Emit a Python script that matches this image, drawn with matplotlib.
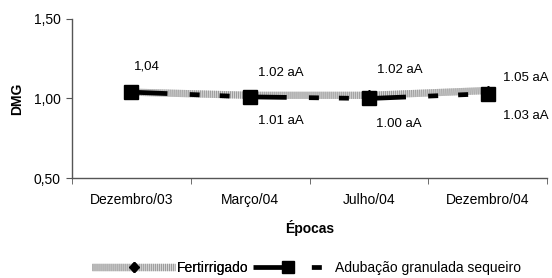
import numpy as np
import matplotlib
matplotlib.use("Agg")
import matplotlib.pyplot as plt
from matplotlib.lines import Line2D

plt.rcParams.update({
    "font.family": ["Liberation Sans", "DejaVu Sans"],
    "font.size": 10,
    "lines.scale_dashes": False,
})

# Data
epocas = ["Dezembro/03", "Março/04", "Julho/04", "Dezembro/04"]
fertirrigado = [1.04, 1.02, 1.02, 1.05]
sequeiro = [1.04, 1.01, 1.00, 1.03]
labels_fert = ["1,04", "1.02 aA", "1.02 aA", "1.05 aA"]
labels_seq = ["", "1.01 aA", "1.00 aA", "1.03 aA"]
yticks = [0.50, 1.00, 1.50]
ytick_labels = ["0,50", "1,00", "1,50"]

fig = plt.figure(figsize=(5.52, 2.78), dpi=100)
ax = fig.add_axes([0.1304, 0.3597, 0.8606, 0.572])

x = np.arange(len(epocas))

gray_base = dict(color="#d6d6d6", lw=5.2, solid_capstyle="butt")
gray_hatch = dict(color="#9a9a9a", lw=5.2, linestyle=(0, (0.7, 0.75)))
seq_dash = (0, (26, 16, 7.2, 14.4, 7.2, 15.1))

# gray hatched line (Fertirrigado)
ax.plot(x, fertirrigado, zorder=2, **gray_base)
ax.plot(x, fertirrigado, zorder=2.1, **gray_hatch)
ax.plot(x, fertirrigado, linestyle="none", marker="D", ms=5, color="black", zorder=3)

# black dashed line (Adubação granulada sequeiro)
ax.plot(x, sequeiro, color="black", lw=3.4, linestyle=seq_dash, zorder=4)
ax.plot(x, sequeiro, linestyle="none", marker="s", ms=10, color="black", zorder=5)

# data labels
fert_off = [(16, 26, "center"), (8, 22, "left"), (8, 25, "left"), (15, 13, "left")]
seq_off = [(0, 0, "left"), (8, -24, "left"), (7, -26, "left"), (15, -22, "left")]
for i in range(len(epocas)):
    dx, dy, ha = fert_off[i]
    ax.annotate(labels_fert[i], (x[i], fertirrigado[i]), xytext=(dx, dy),
                textcoords="offset pixels", ha=ha, va="center", fontsize=9.5)
    if labels_seq[i]:
        dx, dy, ha = seq_off[i]
        ax.annotate(labels_seq[i], (x[i], sequeiro[i]), xytext=(dx, dy),
                    textcoords="offset pixels", ha=ha, va="center", fontsize=9.5)

ax.set_xlim(-0.5, len(epocas) - 0.5)
ax.set_ylim(0.5, 1.5)
ax.set_yticks(yticks)
ax.set_yticklabels(ytick_labels)
ax.set_xticks(x)
ax.set_xticklabels(epocas)
ax.set_xticks(np.arange(-0.5, len(epocas)), minor=True)
ax.tick_params(axis="x", which="major", length=0, pad=11)
ax.tick_params(axis="x", which="minor", length=4, color="#555555")
ax.tick_params(axis="y", length=4, color="#555555", pad=4)

for s in ["top", "right"]:
    ax.spines[s].set_visible(False)
for s in ["left", "bottom"]:
    ax.spines[s].set_color("#555555")
    ax.spines[s].set_linewidth(1.0)

ax.set_ylabel("DMG", fontweight="bold", labelpad=7)
ax.set_xlabel("Épocas", fontweight="bold", labelpad=9)

# legend (two pieces, different handle lengths as in the original)
h1 = (Line2D([], [], **gray_base), Line2D([], [], **gray_hatch),
      Line2D([], [], linestyle="none", marker="D", ms=5, color="black"))
h2 = (Line2D([], [], color="black", lw=3.4, linestyle=(0, (26, 16, 7.2, 14.4))),
      Line2D([], [], linestyle="none", marker="s", ms=8, color="black"))
leg1 = fig.legend([h1], ["Fertirrigado"], loc="center left",
                  bbox_to_anchor=(0.1667, 0.036), frameon=False, borderpad=0,
                  borderaxespad=0, handlelength=6.0, handletextpad=0.1)
fig.add_artist(leg1)
fig.legend([h2], ["Adubação granulada sequeiro"], loc="center left",
           bbox_to_anchor=(0.458, 0.036), frameon=False, borderpad=0,
           borderaxespad=0, handlelength=5.1, handletextpad=0.8)

fig.savefig("out.png", dpi=100)
